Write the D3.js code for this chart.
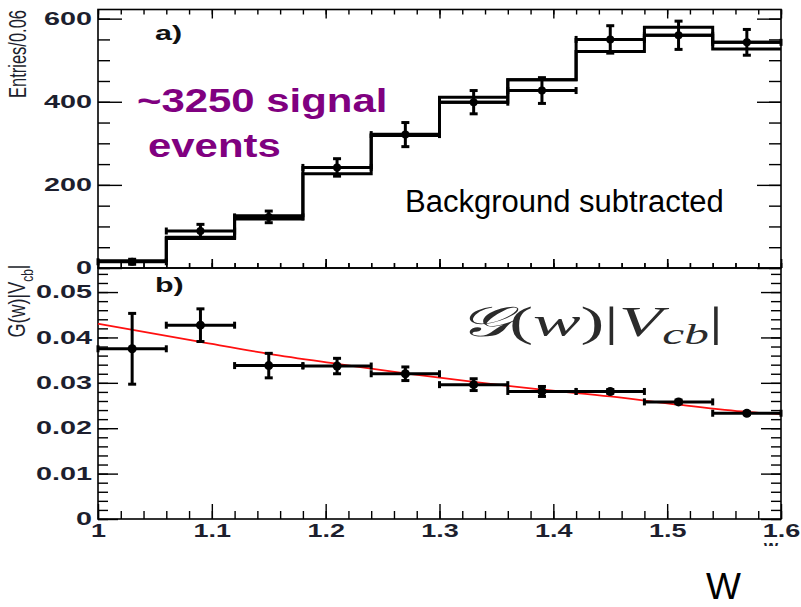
<!DOCTYPE html>
<html>
<head>
<meta charset="utf-8">
<script src="https://cdn.jsdelivr.net/npm/d3@7"></script>
<style>
  html, body { margin: 0; padding: 0; background: #fff; }
  svg { display: block; }
</style>
</head>
<body>
<svg id="chart" width="801" height="607"></svg>
<script>
// ---------------- data ----------------
const wCenters   = [1.03, 1.09, 1.15, 1.21, 1.27, 1.33, 1.39, 1.45, 1.51, 1.57];
const binHalf    = 0.03;
// panel a) : two histograms + background-subtracted data
const histA      = [17, 74, 126, 242, 322, 411, 453, 550, 579, 543];
const histB      = [17, 71, 118, 227, 319, 399, 453, 521, 560, 527];
const entries    = [15, 89, 123, 242, 321, 399, 427, 550, 560, 543];
const entriesErr = [6, 16, 14, 21, 29, 28, 31, 33, 34, 31];
// panel b) : G(w)|Vcb| points + fit curve
const gVcb       = [0.0375, 0.0427, 0.0338, 0.0337, 0.0320, 0.0296, 0.0281, 0.0281, 0.0258, 0.0233];
const gVcbErr    = [0.0078, 0.0036, 0.0027, 0.0017, 0.0015, 0.0013, 0.0011, 0.0004, 0.0004, 0.0003];
const fitW       = [1.00, 1.09, 1.15, 1.21, 1.27, 1.33, 1.39, 1.45, 1.51, 1.57, 1.60];
const fitG       = [0.0430, 0.0390, 0.0364, 0.0342, 0.0321, 0.0302, 0.0285, 0.0270, 0.0252, 0.0236, 0.0231];
// ticks
const xMajor     = [1.0, 1.1, 1.2, 1.3, 1.4, 1.5, 1.6];
const xTickLabels= ["1", "1.1", "1.2", "1.3", "1.4", "1.5", "1.6"];
const yaMajor    = [0, 200, 400, 600];
const ybMajor    = [0, 0.01, 0.02, 0.03, 0.04, 0.05];
const ybLabels   = ["0", "0.01", "0.02", "0.03", "0.04", "0.05"];

// ---------------- layout ----------------
const L = 98, R = 781, T1 = 9.5, B1 = 268, B2 = 519;
const FONT = "'Liberation Sans', Arial, Helvetica, sans-serif";
const LBL = "#1d1f2e";

const svg = d3.select("#chart");
svg.append("rect").attr("width", 801).attr("height", 607).attr("fill", "#fff");

const x  = d3.scaleLinear().domain([1.0, 1.6]).range([L, R]);
const ya = d3.scaleLinear().domain([0, 622]).range([B1, T1]);
const yb = d3.scaleLinear().domain([0, 0.0553]).range([B2, B1]);

const xMinor  = d3.range(1.0, 1.6001, 0.02).map(v => +v.toFixed(2));
const yaMinor = d3.range(0, 621, 50);
const ybMinor = d3.range(0, 0.0553, 0.002).map(v => +v.toFixed(3));

function tickAxis(axisFn, scale, values, size, tx, ty) {
  const g = svg.append("g").attr("transform", `translate(${tx},${ty})`)
    .call(axisFn(scale).tickValues(values).tickSize(size).tickFormat(""));
  g.select(".domain").remove();
  g.selectAll("line").attr("stroke", "#000").attr("stroke-width", 1.4);
  return g;
}

// --- panel a ticks ---
tickAxis(d3.axisLeft,  ya, yaMinor, -12, L, 0);
tickAxis(d3.axisLeft,  ya, yaMajor, -24, L, 0);
tickAxis(d3.axisRight, ya, yaMinor, -12, R, 0);
tickAxis(d3.axisRight, ya, yaMajor, -24, R, 0);
tickAxis(d3.axisTop,   x, xMinor, -5, 0, T1);
tickAxis(d3.axisTop,   x, xMajor, -9, 0, T1);
tickAxis(d3.axisBottom,x, xMinor, -5, 0, B1);
tickAxis(d3.axisBottom,x, xMajor, -9, 0, B1);
// --- panel b ticks ---
tickAxis(d3.axisLeft,  yb, ybMinor, -10, L, 0);
tickAxis(d3.axisLeft,  yb, ybMajor, -20, L, 0);
tickAxis(d3.axisRight, yb, ybMinor, -10, R, 0);
tickAxis(d3.axisRight, yb, ybMajor, -20, R, 0);
tickAxis(d3.axisTop,   x, xMinor, 5, 0, B1);
tickAxis(d3.axisTop,   x, xMajor, 9, 0, B1);
tickAxis(d3.axisBottom,x, xMinor, -8, 0, B2);
tickAxis(d3.axisBottom,x, xMajor, -15, 0, B2);

// --- frames ---
svg.append("rect").attr("x", L).attr("y", T1).attr("width", R - L).attr("height", B1 - T1)
  .attr("fill", "none").attr("stroke", "#000").attr("stroke-width", 1.6);
svg.append("rect").attr("x", L).attr("y", B1).attr("width", R - L).attr("height", B2 - B1)
  .attr("fill", "none").attr("stroke", "#000").attr("stroke-width", 1.6);

// --- tick labels (stretched horizontally like the reference) ---
function yLabels(scale, vals, labels) {
  const g = svg.append("g").attr("transform", `translate(${L},0)`)
    .call(d3.axisLeft(scale).tickValues(vals).tickSize(0).tickPadding(6)
      .tickFormat((d, i) => labels ? labels[i] : d));
  g.select(".domain").remove();
  g.selectAll("text").each(function() {
    const t = d3.select(this);
    const xx = +t.attr("x");
    t.attr("x", 0).attr("transform", `translate(${xx},0) scale(1.6,1)`)
     .attr("font-family", FONT).attr("font-size", 18).attr("font-weight", "bold")
     .attr("fill", LBL);
  });
  return g;
}
yLabels(ya, yaMajor, null);
yLabels(yb, ybMajor, ybLabels);

const gx = svg.append("g").attr("transform", `translate(0,${B2})`)
  .call(d3.axisBottom(x).tickValues(xMajor).tickSize(0).tickPadding(5)
    .tickFormat((d, i) => xTickLabels[i]));
gx.select(".domain").remove();
gx.selectAll("text")
  .attr("transform", "scale(1.5,1)").attr("x", 0)
  .attr("font-family", FONT).attr("font-size", 18).attr("font-weight", "bold").attr("fill", LBL);

// --- histograms (panel a) ---
function stepPath(vals) {
  let p = "";
  vals.forEach((v, i) => {
    const x0 = x(wCenters[i] - binHalf), x1 = x(wCenters[i] + binHalf), yy = ya(v);
    p += (i === 0 ? `M${x0},${yy}` : `L${x0},${yy}`) + `L${x1},${yy}`;
  });
  return p;
}
[histA, histB].forEach(h => {
  svg.append("path").attr("d", stepPath(h)).attr("fill", "none")
    .attr("stroke", "#000").attr("stroke-width", 3).attr("stroke-linejoin", "miter");
});

// --- error-bar points ---
function errPoints(yScale, vals, errs, r, capW) {
  const g = svg.append("g");
  vals.forEach((v, i) => {
    const cx = x(wCenters[i]), cy = yScale(v);
    const xl = x(wCenters[i] - binHalf), xr = x(wCenters[i] + binHalf);
    const yt = yScale(v + errs[i]), yB = yScale(v - errs[i]);
    g.append("line").attr("x1", xl).attr("x2", xr).attr("y1", cy).attr("y2", cy)
      .attr("stroke", "#000").attr("stroke-width", 3);
    g.append("line").attr("x1", xl).attr("x2", xl).attr("y1", cy - 3.5).attr("y2", cy + 3.5)
      .attr("stroke", "#000").attr("stroke-width", 3);
    g.append("line").attr("x1", xr).attr("x2", xr).attr("y1", cy - 3.5).attr("y2", cy + 3.5)
      .attr("stroke", "#000").attr("stroke-width", 3);
    g.append("line").attr("x1", cx).attr("x2", cx).attr("y1", yt).attr("y2", yB)
      .attr("stroke", "#000").attr("stroke-width", 3);
    [yt, yB].forEach(yy => g.append("line").attr("x1", cx - capW).attr("x2", cx + capW)
      .attr("y1", yy).attr("y2", yy).attr("stroke", "#000").attr("stroke-width", 3));
    g.append("circle").attr("cx", cx).attr("cy", cy).attr("r", r).attr("fill", "#000");
  });
}
errPoints(ya, entries, entriesErr, 4, 4);

// --- fit curve (panel b) ---
const fitLine = d3.line().x((d, i) => x(fitW[i])).y(d => yb(d)).curve(d3.curveMonotoneX);
svg.append("path").attr("d", fitLine(fitG)).attr("fill", "none")
  .attr("stroke", "#ff1010").attr("stroke-width", 1.8);

errPoints(yb, gVcb, gVcbErr, 4.5, 4);

// --- texts ---
function stretchedText(tx, ty, sx, txt, size, weight, fill, anchor) {
  return svg.append("text").attr("transform", `translate(${tx},${ty}) scale(${sx},1)`)
    .attr("font-family", FONT).attr("font-size", size).attr("font-weight", weight)
    .attr("fill", fill).attr("text-anchor", anchor || "start").text(txt);
}
stretchedText(155, 40, 1.45, "a)", 21, "bold", "#111");
stretchedText(155, 292, 1.45, "b)", 21, "bold", "#111");

// y axis titles
svg.append("text").attr("transform", "translate(26,54) rotate(-90) scale(1,1.45)")
  .attr("text-anchor", "middle").attr("font-family", FONT).attr("font-size", 16.5)
  .attr("fill", LBL).text("Entries/0.06");

const yt2 = svg.append("text").attr("transform", "translate(25,301) rotate(-90) scale(1,1.3)")
  .attr("text-anchor", "middle").attr("font-family", FONT).attr("font-size", 18).attr("fill", LBL);
yt2.append("tspan").text("G(w)|V");
yt2.append("tspan").attr("font-size", 12).attr("dy", 6).text("cb");
yt2.append("tspan").attr("dy", -6).text("|");

// purple annotation
stretchedText(137, 112, 1.27, "~3250 signal", 33, "bold", "#800080");
stretchedText(148, 157, 1.27, "events", 33, "bold", "#800080");

// background subtracted
svg.append("text").attr("x", 405).attr("y", 212).attr("font-family", FONT)
  .attr("font-size", 31).attr("fill", "#000").text("Background subtracted");

// formula
const f = svg.append("text").attr("transform", "translate(458,336) scale(1.7,1)")
  .attr("font-family", "'Liberation Serif', 'DejaVu Serif', serif").attr("font-size", 42).attr("fill", "#2b2b2b");
f.append("tspan").attr("font-style", "italic").text("𝒢");
f.append("tspan").text("(");
f.append("tspan").attr("font-style", "italic").text("w");
f.append("tspan").text(")|");
f.append("tspan").attr("font-style", "italic").text("V");
f.append("tspan").attr("font-style", "italic").attr("font-size", 29).attr("dy", 8).text("cb");
f.append("tspan").attr("dy", -8).text("|");

// small clipped axis title "w" under 1.6
svg.append("clipPath").attr("id", "wclip").append("rect")
  .attr("x", 740).attr("y", 537).attr("width", 60).attr("height", 9);
svg.append("text").attr("x", 771).attr("y", 553).attr("clip-path", "url(#wclip)")
  .attr("font-family", FONT).attr("font-size", 18).attr("font-weight", "bold")
  .attr("fill", LBL).attr("text-anchor", "middle").text("w");

// big W
svg.append("text").attr("x", 706).attr("y", 599).attr("font-family", FONT)
  .attr("font-size", 37).attr("fill", "#000").text("W");
</script>
</body>
</html>
